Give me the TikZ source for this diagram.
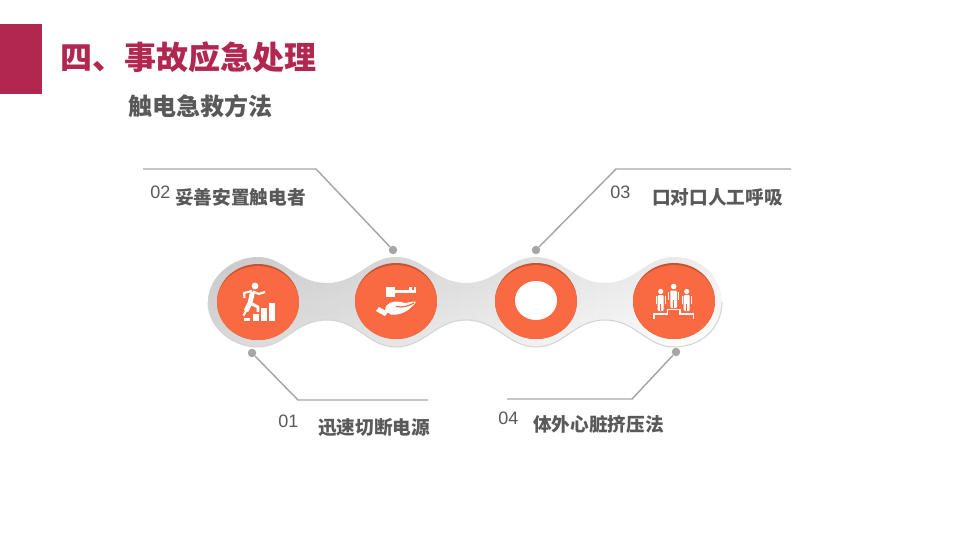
\documentclass[tikz,border=0pt]{standalone}
\usepackage{fontspec}
\setmainfont{Noto Sans CJK SC}
\newfontfamily\numfont{Liberation Sans}
\usetikzlibrary{shapes.geometric,fadings}
\def \px {0.75pt}
\def \bandpath {(208,302) .. controls (208,277) and (232,257) .. (258,257)
      .. controls (285,257) and (295,283) .. (327,283)
      .. controls (358,283) and (368,257) .. (396,257)
      .. controls (424,257) and (436,283) .. (466,283)
      .. controls (497,283) and (508,257) .. (536,257)
      .. controls (564,257) and (574,283) .. (605,283)
      .. controls (636,283) and (646,257) .. (674,257)
      .. controls (702,257) and (722,277) .. (722,302)
      .. controls (722,327) and (702,347) .. (674,347)
      .. controls (646,347) and (636,320) .. (605,320)
      .. controls (574,320) and (564,347) .. (536,347)
      .. controls (508,347) and (497,320) .. (466,320)
      .. controls (436,320) and (424,347) .. (396,347)
      .. controls (368,347) and (358,320) .. (327,320)
      .. controls (295,320) and (285,347) .. (258,347)
      .. controls (232,347) and (208,327) .. (208,302) -- cycle}
\definecolor{titlered}{HTML}{B2274F}
\definecolor{textgray}{HTML}{595959}
\definecolor{leadgray}{HTML}{A6A6A6}
\definecolor{ballorange}{HTML}{F96A43}
\definecolor{ballshade}{HTML}{C9532F}

\begin{document}
\begin{tikzpicture}[x=\px,y=-\px,
    lead/.style={draw=leadgray,line width=1.1pt},
    dot/.style={circle,fill=leadgray,inner sep=0pt,minimum size=8.5*\px},
    ball/.style={ellipse,fill=ballshade,inner sep=0pt,minimum width=82*\px,minimum height=76*\px,
      path picture={\fill[ballorange] ([yshift=-1.6*\px]path picture bounding box.center) ellipse (41.5 and 37.5);}},
    num/.style={anchor=west,text=textgray,font=\numfont\fontsize{13.5pt}{16pt}\selectfont,inner sep=0pt},
    lab/.style={anchor=west,text=textgray,font=\bfseries\fontsize{14pt}{17pt}\selectfont,inner sep=0pt},
    icon/.style={fill=white,draw=none}]
    \useasboundingbox (0,0) rectangle (960,540);
    % header
    \node[fill=titlered,minimum width=42*\px,minimum height=70*\px,inner sep=0pt,anchor=north west] (bar) at (0,24) {};
    \node[anchor=west,inner sep=0pt,text=titlered,font=\bfseries\fontsize{24pt}{28pt}\selectfont] (title) at (60,57) {四、事故应急处理};
    \node[anchor=west,inner sep=0pt,text=textgray,font=\bfseries\fontsize{18pt}{22pt}\selectfont] (sub) at (128,106) {触电急救方法};
    % band
    \path[left color=black!15,right color=white] \bandpath;
    \fill[black,opacity=0.07,path fading=south] \bandpath;
    \draw[black!17,line width=0.8pt] (722,302) .. controls (722,327) and (702,347) .. (674,347)
      .. controls (646,347) and (636,320) .. (605,320)
      .. controls (574,320) and (564,347) .. (536,347)
      .. controls (508,347) and (497,320) .. (466,320)
      .. controls (436,320) and (424,347) .. (396,347)
      .. controls (368,347) and (358,320) .. (327,320)
      .. controls (295,320) and (285,347) .. (258,347)
      .. controls (232,347) and (208,327) .. (208,302);
    \node[ball] (B1) at (258,302) {};
    \node[ball] (B2) at (396,301) {};
    \node[ball] (B3) at (536,301) {};
    \node[ball] (B4) at (674,301) {};
    % icon 1
    \fill[icon] (255,286) circle (3.4);
    \draw[white,line width=3.6pt,line join=round] (252.5,292) -- (250,303) -- (246,311);
    \draw[white,line width=2.2pt,line join=round] (250,303) -- (258,307) -- (258,312);
    \draw[white,line width=1.6pt,line join=round] (253,291.5) -- (259,294) -- (265,292);
    \draw[white,line width=1.6pt,line join=round] (252,291) -- (244,293) -- (244.5,298);
    \draw[white,line width=1.6pt] (246,311) -- (243.5,315.5);
    \fill[icon] (244,317.5) rectangle (250,321);
    \fill[icon] (252.5,314) rectangle (258.5,321);
    \fill[icon] (261,308) rectangle (267,321);
    \fill[icon] (269,302.5) rectangle (275,321);
    % icon 2
    \fill[icon] (386,287) rectangle (395,297);
    \fill[icon] (395,289.5) rectangle (416,293);
    \fill[icon] (409,287) rectangle (411.5,290);
    \fill[icon] (413.5,287) rectangle (416,290);
    \fill[icon] (376,311) -- (379,307) -- (388,312) -- (385,316) -- cycle;
    \fill[icon] (386,306) .. controls (392,300) and (398,301) .. (405,303)
      -- (414,301.5) -- (416,302) .. controls (410,311) and (399,316) .. (391,314.5) -- (385,311) -- cycle;
    \draw[ballorange,line width=0.9pt] (396,306.5) .. controls (403,308) and (408,306) .. (414,303);
    % icon 3
    \node[ellipse,fill=white,inner sep=0pt,minimum width=42*\px,minimum height=39*\px] (hole) at (536,300.5) {};
    % icon 4
    \fill[icon] (660.7,291.5) circle (2.6);
    \fill[icon] (673.7,286.5) circle (2.8);
    \fill[icon] (686.7,291.5) circle (2.6);
    \fill[icon,rounded corners=0.8pt] (657.7,295) rectangle (663.7,311);
    \fill[icon,rounded corners=0.8pt] (670.4,290.5) rectangle (677,308);
    \fill[icon,rounded corners=0.8pt] (683.7,295) rectangle (689.7,311);
    \draw[white,line width=0.9pt] (656.3,296) -- (656.3,304) (665.1,296) -- (665.1,304)
      (668.8,292) -- (668.8,300) (678.6,292) -- (678.6,300)
      (682.3,296) -- (682.3,304) (691.1,296) -- (691.1,304);
    \draw[ballorange,line width=0.4pt] (660.7,304) -- (660.7,311) (673.7,300) -- (673.7,308) (686.7,304) -- (686.7,311);
    \draw[white,line width=0.9pt] (654,318.5) -- (654,314) -- (667.3,314) -- (667.3,309.5) -- (680,309.5) -- (680,314) -- (693.3,314) -- (693.3,318.5);
    % leaders
    \node[dot] (D1) at (252,353) {};
    \node[dot] (D2) at (393,250) {};
    \node[dot] (D3) at (536,250) {};
    \node[dot] (D4) at (676,352) {};
    \coordinate (E1) at (428,400);
    \coordinate (E2) at (143,169);
    \coordinate (E3) at (791,169);
    \coordinate (E4) at (507,399);
    \draw[lead] (D1) -- (298,400) -- (E1);
    \draw[lead] (D2) -- (316,169) -- (E2);
    \draw[lead] (D3) -- (616,169) -- (E3);
    \draw[lead] (D4) -- (632,399) -- (E4);
    % labels
    \node[num] (N1) at (278,421) {01};
    \node[num] (N2) at (150,192) {02};
    \node[num] (N3) at (610,192) {03};
    \node[num] (N4) at (498,418) {04};
    \node[lab] (L1) at (318,427) {迅速切断电源};
    \node[lab] (L2) at (175,197) {妥善安置触电者};
    \node[lab] (L3) at (652,197) {口对口人工呼吸};
    \node[lab] (L4) at (533,424) {体外心脏挤压法};
\end{tikzpicture}
\end{document}
